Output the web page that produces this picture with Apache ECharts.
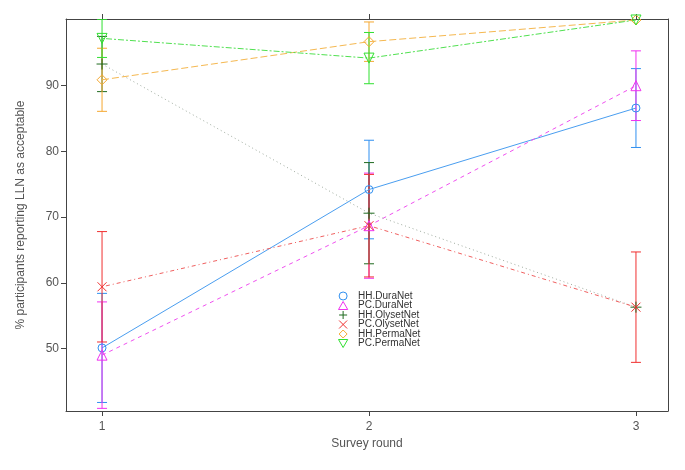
<!DOCTYPE html>
<html><head><meta charset="utf-8">
<script src="https://cdn.jsdelivr.net/npm/echarts@6/dist/echarts.min.js"></script>
<style>html,body{margin:0;padding:0;background:#fff}#c{width:685px;height:470px}</style>
</head><body><div id="c"></div>
<script>
const rounds = [1, 2, 3];
const seriesNames = ['HH.DuraNet','PC.DuraNet','HH.OlysetNet','PC.OlysetNet','HH.PermaNet','PC.PermaNet'];
const hhDuraNet   = [50.1, 74.2, 86.6];
const pcDuraNet   = [49.0, 68.7, 90.0];
const hhOlysetNet = [93.3, 70.6, 56.3];
const pcOlysetNet = [59.4, 68.7, 56.3];
const hhPermaNet  = [90.9, 96.7, 100.0];
const pcPermaNet  = [97.2, 94.2, 100.0];
const errHHDuraNet   = [8.3, 7.5, 6.0];
const errPCDuraNet   = [8.1, 8.0, 5.3];
const errHHOlysetNet = [4.2, 7.7, 0];
const errPCOlysetNet = [8.4, 7.8, 8.4];
const errHHPermaNet  = [4.8, 3.0, 0];
const errPCPermaNet  = [2.9, 3.9, 0];
const yTicks = [50, 60, 70, 80, 90];
const xTicks = [1, 2, 3];

const values = [hhDuraNet, pcDuraNet, hhOlysetNet, pcOlysetNet, hhPermaNet, pcPermaNet];
const errs = [errHHDuraNet, errPCDuraNet, errHHOlysetNet, errPCOlysetNet, errHHPermaNet, errPCPermaNet];
const colors = ['#2f8ff0', '#f030f0', '#1f6a1f', '#f03030', '#f5a830', '#30e030'];
const lineColors = ['#4a9ef0', '#f050f0', '#a0aca0', '#f06060', '#f5b850', '#50e050'];
const dashes = ['solid', [4,4], [1,3], [1,3,4,3], [7,3], [2,2,6,2]];
const symbols = [
  'circle',
  'path://M5,0L10,8.66L0,8.66Z',
  'path://M0,5L10,5M5,0L5,10',
  'path://M0,0L10,10M10,0L0,10',
  'path://M5,0L10,5L5,10L0,5Z',
  'path://M0,0L10,0L5,8.66Z'
];
const sizes = [8, 10, 11, 9, 10, 10];
const font = 'Liberation Sans, Arial, sans-serif';

const series = [];
seriesNames.forEach((name, i) => {
  const errData = rounds.map((r, k) => [r, values[i][k] - errs[i][k], values[i][k] + errs[i][k]]);
  series.push({
    type: 'custom', name: name + '_err', silent: true, clip: true, z: 2,
    data: errData,
    encode: { x: 0, y: [1, 2] },
    renderItem: function (params, api) {
      const x = api.value(0);
      const lo = api.coord([x, api.value(1)]);
      const hi = api.coord([x, api.value(2)]);
      if (Math.abs(lo[1] - hi[1]) < 0.5) return null;
      const st = { stroke: colors[i], lineWidth: 1 };
      return { type: 'group', children: [
        { type: 'line', shape: { x1: lo[0], y1: lo[1], x2: hi[0], y2: hi[1] }, style: st },
        { type: 'line', shape: { x1: lo[0]-5, y1: lo[1], x2: lo[0]+5, y2: lo[1] }, style: st },
        { type: 'line', shape: { x1: hi[0]-5, y1: hi[1], x2: hi[0]+5, y2: hi[1] }, style: st }
      ]};
    }
  });
  series.push({
    type: 'line', name: name, z: 3,
    data: rounds.map((r, k) => [r, values[i][k]]),
    symbol: symbols[i], symbolSize: sizes[i], showSymbol: true,
    lineStyle: { color: lineColors[i], width: 1, type: dashes[i] },
    itemStyle: { color: 'rgba(255,255,255,0)', borderColor: colors[i], borderWidth: 1 },
    emphasis: { disabled: true },
    animation: false
  });
});

const chart = echarts.init(document.getElementById('c'), null, { renderer: 'canvas' });
chart.setOption({
  animation: false,
  backgroundColor: '#ffffff',
  grid: { left: 66, right: 17, top: 19, bottom: 59, show: false },
  legend: {
    left: 338, top: 291, orient: 'vertical', itemGap: -0.5, itemWidth: 10, itemHeight: 8,
    selectedMode: false, padding: 0,
    textStyle: { fontFamily: font, fontSize: 10, color: '#333', padding: [0, 0, 0, 5] },
    data: seriesNames.map((n, i) => ({
      name: n, icon: symbols[i] === 'circle' ? 'circle' : symbols[i],
      itemStyle: { color: 'rgba(255,255,255,0)', borderColor: colors[i], borderWidth: 1 }
    }))
  },
  xAxis: [{
    type: 'value', min: 0.865, max: 3.12, position: 'bottom',
    name: 'Survey round', nameLocation: 'middle', nameGap: 25,
    nameTextStyle: { fontFamily: font, fontSize: 12, color: '#555' },
    axisLine: { show: true, onZero: false, lineStyle: { color: '#444', width: 1 } },
    axisTick: { show: true, length: 5, customValues: xTicks, lineStyle: { color: '#444' } },
    axisLabel: { customValues: xTicks, fontFamily: font, fontSize: 12, color: '#555', margin: 10 },
    splitLine: { show: false }
  }, {
    type: 'value', min: 0.865, max: 3.12, position: 'top',
    axisLine: { show: true, onZero: false, lineStyle: { color: '#444', width: 1 } },
    axisTick: { show: true, length: 5, customValues: xTicks, lineStyle: { color: '#444' } },
    axisLabel: { show: false }, splitLine: { show: false }
  }],
  yAxis: [{
    type: 'value', min: 40.5, max: 100.15, position: 'left',
    name: '% participants reporting LLN as acceptable', nameLocation: 'middle', nameGap: 39,
    nameTextStyle: { fontFamily: font, fontSize: 12, color: '#555' },
    axisLine: { show: true, onZero: false, lineStyle: { color: '#444', width: 1 } },
    axisTick: { show: true, length: 5, customValues: yTicks, lineStyle: { color: '#444' } },
    axisLabel: { customValues: yTicks, fontFamily: font, fontSize: 12, color: '#555', margin: 7 },
    splitLine: { show: false }
  }, {
    type: 'value', min: 40.5, max: 100.15, position: 'right',
    axisLine: { show: true, onZero: false, lineStyle: { color: '#444', width: 1 } },
    axisTick: { show: false },
    axisLabel: { show: false }, splitLine: { show: false }
  }],
  series: series
});
</script></body></html>
